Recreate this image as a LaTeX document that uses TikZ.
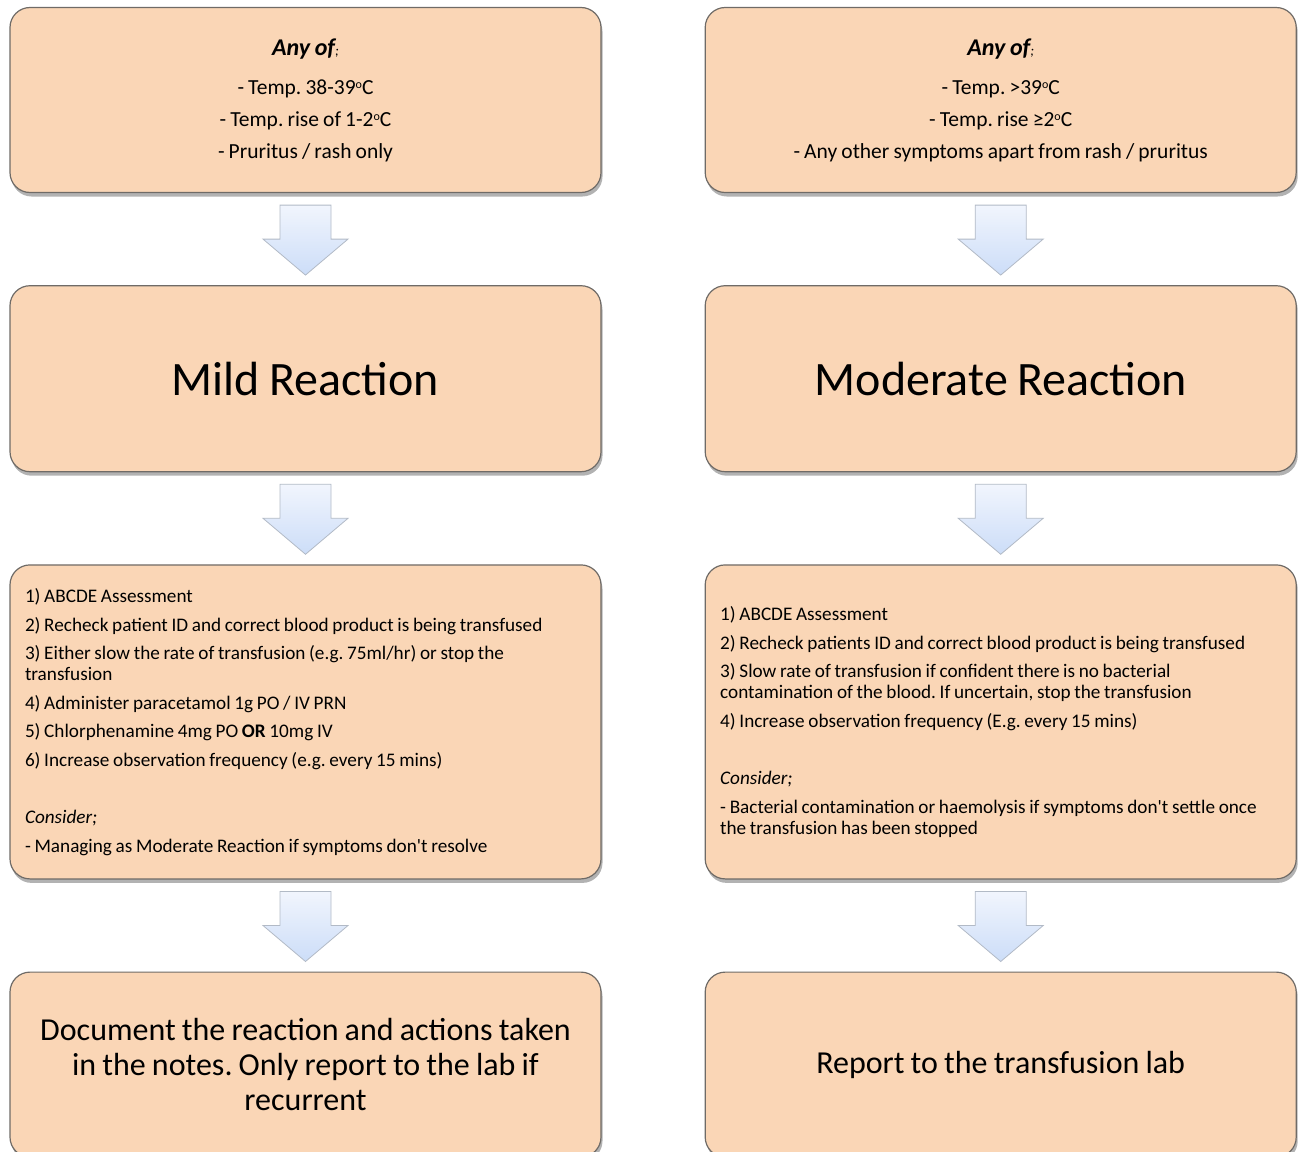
\documentclass[tikz,border=0pt]{standalone}
\usepackage{fontspec}
\setmainfont{Carlito}[WordSpace=0.85]
\usetikzlibrary{positioning, calc, shadows}
\definecolor{peach}{HTML}{FAD6B6}
\definecolor{boxline}{HTML}{6F6B67}
\definecolor{arrowtop}{HTML}{F1F5FD}
\definecolor{arrowbot}{HTML}{CCDDF8}
\definecolor{arrowline}{HTML}{B2BAC6}
\newcommand{\dego}{\raisebox{0.55ex}{\fontsize{12}{12}\selectfont o}}
\newcommand{\flowarrow}[2]{%
  \path[blockarrow] ($(#1.south)+(-25.5,-12)$) -- ($(#1.south)+(25.5,-12)$)
    -- ($(#1.south)+(25.5,-46)$) -- ($(#1.south)+(42.5,-46)$) -- ($(#2.north)+(0,10)$)
    -- ($(#1.south)+(-42.5,-46)$) -- ($(#1.south)+(-25.5,-46)$) -- cycle;}
\frenchspacing

\begin{document}
\begin{tikzpicture}[
  x=1pt, y=1pt,
  box/.style={draw=boxline, line width=1.2pt, fill=peach, rounded corners=20pt,
    minimum width=591pt, align=center, execute at begin node={\spaceskip=0pt\relax},
    drop shadow={shadow xshift=1.5pt, shadow yshift=-4pt, opacity=0.3, fill=black}},
  signbox/.style={box, minimum height=185pt, font=\fontsize{21.5}{32}\selectfont},
  titlebox/.style={box, minimum height=186pt, font=\fontsize{48}{58}\selectfont},
  actbox/.style={box, minimum height=314pt, text width=561pt, align=flush left, font=\fontsize{19.2}{21}\selectfont},
  endbox/.style={box, minimum height=185pt, text width=561pt, align=flush center, font=\fontsize{32}{35}\selectfont},
  blockarrow/.style={draw=arrowline, line width=0.8pt, top color=arrowtop, bottom color=arrowbot},
  node distance=92pt and 103pt]
  \useasboundingbox (0,0) rectangle (1300,-1151);
  \clip (0,0) rectangle (1300,-1151);
  \node[signbox] (mildsign) at (305.5,-100) {{\fontsize{24}{32}\selectfont\bfseries\itshape Any of}{\fontsize{14}{32}\selectfont\itshape ;}\\[7pt]
    - Temp. 38-39\dego C\\ - Temp. rise of 1-2\dego C\\ - Pruritus / rash only};
  \node[signbox, right=of mildsign] (modsign) {{\fontsize{24}{32}\selectfont\bfseries\itshape Any of}{\fontsize{14}{32}\selectfont\itshape ;}\\[7pt]
    - Temp. >39\dego C\\ - Temp. rise ≥2\dego C\\ - Any other symptoms apart from rash / pruritus};
  \node[titlebox, below=of mildsign] (mild) {Mild Reaction};
  \node[titlebox, below=of modsign]  (mod)  {Moderate Reaction};
  \node[actbox, below=of mild] (mildact) {1) ABCDE Assessment\\[7.5pt]
    2) Recheck patient ID and correct blood product is being transfused\\[7.5pt]
    3) Either slow the rate of transfusion (e.g. 75ml/hr) or stop the\\ transfusion\\[7.5pt]
    4) Administer paracetamol 1g PO / IV PRN\\[7.5pt]
    5) Chlorphenamine 4mg PO \textbf{OR} 10mg IV\\[7.5pt]
    6) Increase observation frequency (e.g. every 15 mins)\\[36.5pt]
    \textit{Consider;}\\[7.5pt]
    - Managing as Moderate Reaction if symptoms don\textquotesingle t resolve};
  \node[actbox, below=of mod] (modact) {1) ABCDE Assessment\\[7.5pt]
    2) Recheck patients ID and correct blood product is being transfused\\[7.5pt]
    3) Slow rate of transfusion if confident there is no bacterial\\ contamination of the blood. If uncertain, stop the transfusion\\[7.5pt]
    4) Increase observation frequency (E.g. every 15 mins)\\[36.5pt]
    \textit{Consider;}\\[7.5pt]
    - Bacterial contamination or haemolysis if symptoms don\textquotesingle t settle once\\ the transfusion has been stopped};
  \node[endbox, below=of mildact] (milddoc) {Document the reaction and actions taken\\ in the notes. Only report to the lab if\\ recurrent};
  \node[endbox, below=of modact] (modlab) {Report to the transfusion lab};
  \flowarrow{mildsign}{mild}
  \flowarrow{modsign}{mod}
  \flowarrow{mild}{mildact}
  \flowarrow{mod}{modact}
  \flowarrow{mildact}{milddoc}
  \flowarrow{modact}{modlab}
\end{tikzpicture}
\end{document}
